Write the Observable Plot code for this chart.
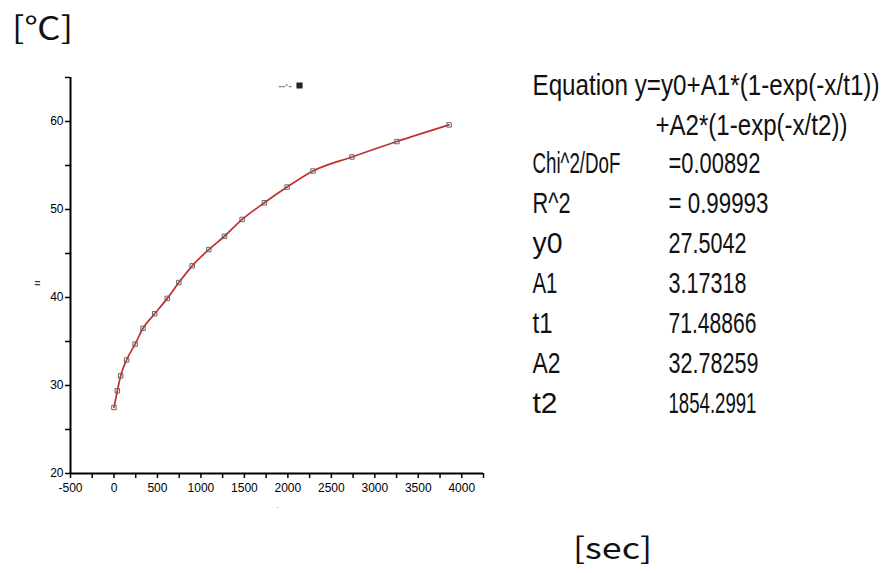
<!DOCTYPE html>
<html>
<head>
<meta charset="utf-8">
<script src="https://cdn.jsdelivr.net/npm/d3@7"></script>
<script src="https://cdn.jsdelivr.net/npm/@observablehq/plot@0.6"></script>
<style>
  html, body { margin: 0; padding: 0; background: #fff; }
  #chart { width: 882px; height: 573px; overflow: hidden; }
</style>
</head>
<body>
<div id="chart"></div>
<script>
// ---- data ----
const timeSec = [0, 39, 77, 145, 243, 334, 468, 613, 746, 900, 1091, 1271, 1474, 1730, 1991, 2289, 2737, 3254, 3854];
const tempC   = [27.5, 29.4, 31.1, 32.9, 34.7, 36.5, 38.15, 39.9, 41.7, 43.6, 45.45, 46.96, 48.87, 50.77, 52.55, 54.37, 55.97, 57.72, 59.61];

const xTicks = [-500, -250, 0, 250, 500, 750, 1000, 1250, 1500, 1750, 2000, 2250, 2500, 2750, 3000, 3250, 3500, 3750, 4000, 4250];
const yTicks = [20, 25, 30, 35, 40, 45, 50, 55, 60, 65];

const equationLines = ["Equation y=y0+A1*(1-exp(-x/t1))", "+A2*(1-exp(-x/t2))"];
const paramNames  = ["Chi^2/DoF", "R^2", "y0", "A1", "t1", "A2", "t2"];
const paramValues = ["=0.00892", "= 0.99993", "27.5042", "3.17318", "71.48866", "32.78259", "1854.2991"];

const yUnit = "[℃]";
const xUnit = "[sec]";
const legendLabel = "B";

// ---- layout (pixels) ----
const ML = 70, MT = 77;
const eqFont = {fontFamily: "Liberation Sans", fontSize: 30, fill: "#111", lineAnchor: "middle", textAnchor: "start"};
const eqLinePos = [[532, 85, 347], [655, 125, 192]];
const nameX = 532, valueX = 668, rowY0 = 163, rowStep = 40;
const nameW = [88, 38, 30, 25, 20, 28, 25];
const valueW = [92, 100, 78, 78, 88, 90, 88];

const data = timeSec.map((t, i) => ({t, temp: tempC[i]}));

const at = (px, py) => ({frameAnchor: "top-left", dx: px - ML, dy: py - MT});

const textMarks = [];
const fits = new Map();
equationLines.forEach((s, i) => {
  const [px, py, w] = eqLinePos[i];
  textMarks.push(Plot.text([s], {...at(px, py), ...eqFont}));
  fits.set(s, w);
});
paramNames.forEach((s, i) => {
  const py = rowY0 + i * rowStep;
  textMarks.push(Plot.text([s], {...at(nameX, py), ...eqFont}));
  fits.set(s, nameW[i]);
  textMarks.push(Plot.text([paramValues[i]], {...at(valueX, py), ...eqFont}));
  fits.set(paramValues[i], valueW[i]);
});
fits.set(yUnit, 61);
fits.set(xUnit, 79);

const plot = Plot.plot({
  width: 882,
  height: 573,
  marginLeft: ML,
  marginRight: 399,
  marginTop: MT,
  marginBottom: 100,
  x: {domain: [-500, 4250]},
  y: {domain: [20, 65]},
  style: {fontFamily: "Liberation Sans", fontSize: "12px", color: "#000", background: "#fff", overflow: "visible"},
  marks: [
    Plot.axisX(xTicks, {tickSize: 5, tickPadding: 5, tickFormat: d => d % 500 === 0 ? String(d) : "", label: null, stroke: "#000", strokeWidth: 1.5, fill: "#000"}),
    Plot.axisY(yTicks, {tickSize: 5, tickPadding: 2, tickFormat: d => d % 10 === 0 ? String(d) : "", label: null, stroke: "#000", strokeWidth: 1.5, fill: "#000"}),
    Plot.ruleY([20], {stroke: "#000", strokeWidth: 2}),
    Plot.ruleX([-500], {stroke: "#000", strokeWidth: 2}),
    Plot.line(data, {x: "t", y: "temp", stroke: "#c03030", strokeWidth: 1.7, curve: "monotone-x"}),
    Plot.dot(data, {x: "t", y: "temp", symbol: "square", r: 2.5, stroke: "#666", strokeWidth: 1, fill: "none"}),
    // legend
    Plot.text(["--·-"], {...at(278, 85), lineAnchor: "middle", textAnchor: "start", fill: "#777", fontSize: 10, fontWeight: "bold"}),
    Plot.dot([legendLabel], {...at(299, 85), symbol: "square", r: 2.6, fill: "#222", stroke: "#222"}),
    // tiny axis titles
    Plot.text(["="], {...at(37, 283), lineAnchor: "middle", textAnchor: "middle", fontSize: 10, fontWeight: "bold", fill: "#333"}),
    Plot.text(["."], {...at(277, 505), lineAnchor: "middle", textAnchor: "middle", fontSize: 8, fill: "#555"}),
    // units
    Plot.text([yUnit], {...at(42, 29), lineAnchor: "middle", textAnchor: "middle", fontFamily: "Noto Sans CJK KR", fontSize: 31, fill: "#111"}),
    Plot.text([xUnit], {...at(612, 549), lineAnchor: "middle", textAnchor: "middle", fontFamily: "Noto Sans CJK KR", fontSize: 30, fill: "#111"}),
    ...textMarks
  ]
});

document.getElementById("chart").appendChild(plot);

// squeeze the condensed annotation text horizontally to the reference widths
for (const t of plot.querySelectorAll("text")) {
  const s = t.textContent;
  if (!fits.has(s)) continue;
  const w = t.getComputedTextLength();
  if (!(w > 0)) continue;
  const sx = fits.get(s) / w;
  const tr = t.getAttribute("transform");
  t.setAttribute("transform", (tr ? tr + " " : "") + `scale(${sx.toFixed(4)},1)`);
}
</script>
</body>
</html>
